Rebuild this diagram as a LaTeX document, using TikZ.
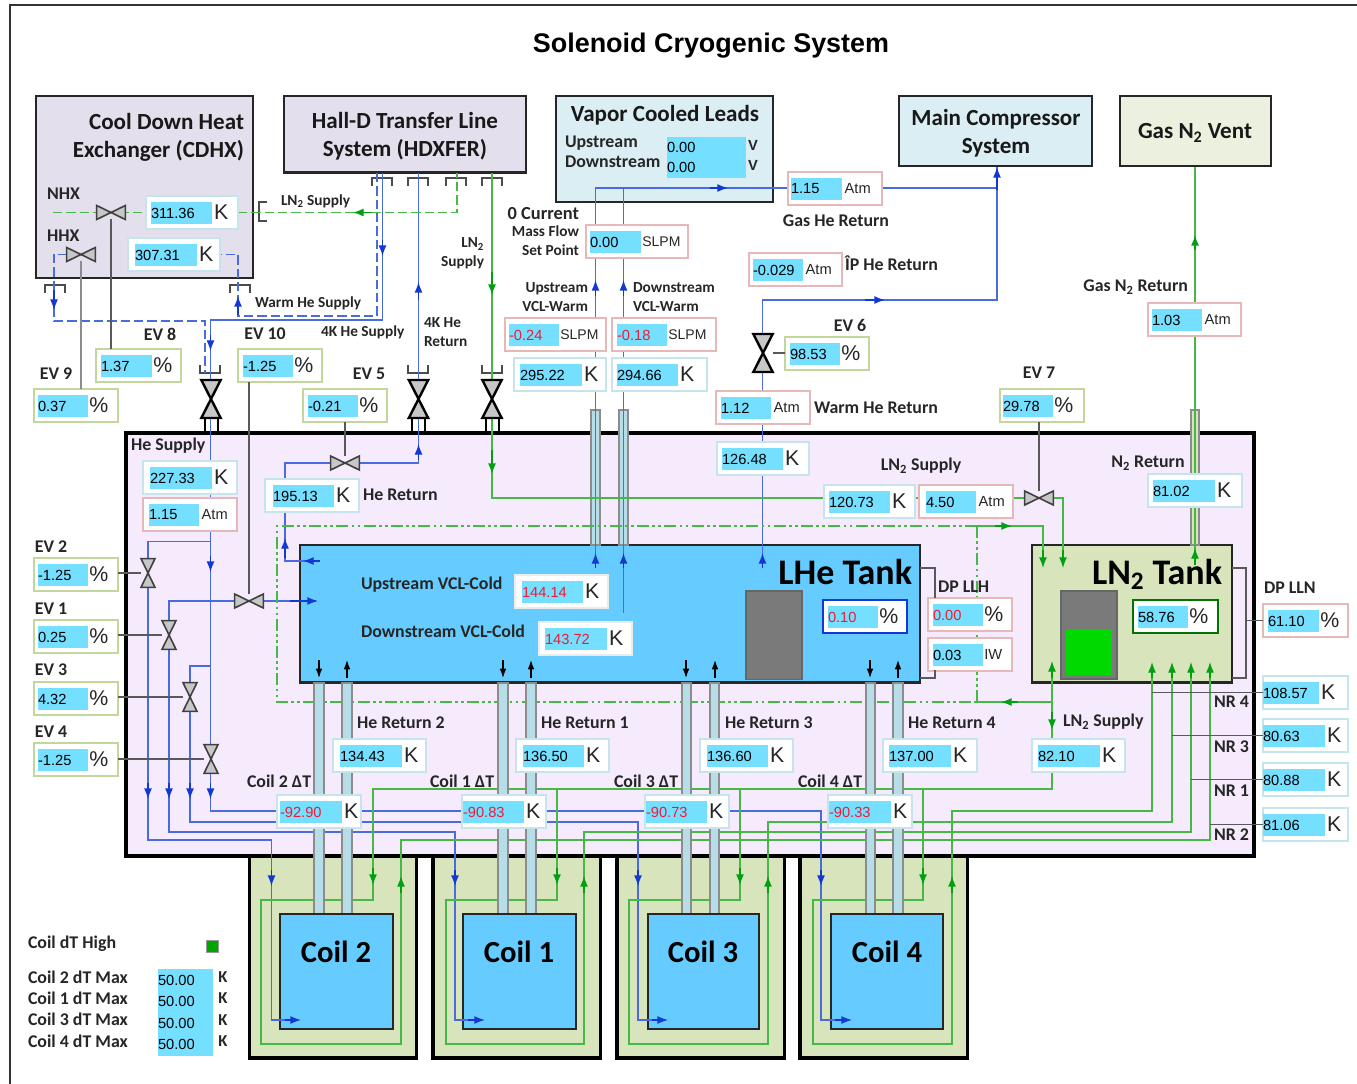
\documentclass[tikz,border=0pt]{standalone}
\usepackage{fontspec}
\setmainfont{Carlito}
\newfontfamily\numfont{Liberation Sans}
\usetikzlibrary{arrows.meta}

\definecolor{hxfill}{HTML}{E4DFEC}
\definecolor{vclfill}{HTML}{DAEEF3}
\definecolor{gasfill}{HTML}{EBF1DE}
\definecolor{cryofill}{HTML}{F5EBFD}
\definecolor{lhefill}{HTML}{66CCFF}
\definecolor{lnfill}{HTML}{D7E4BC}
\definecolor{valcyan}{HTML}{75DFFF}
\definecolor{pipefill}{HTML}{B7DDE8}
\definecolor{kedge}{HTML}{C5E4EC}
\definecolor{pedge}{HTML}{E6B9B8}
\definecolor{evedge}{HTML}{C3D69B}
\definecolor{heblue}{HTML}{4A6BE0}
\definecolor{tipblue}{HTML}{1438D2}
\definecolor{lngreen}{HTML}{45B845}
\definecolor{tipgreen}{HTML}{00A010}
\definecolor{alarmred}{HTML}{EE1C36}

\tikzset{
  kbox/.style={draw=kedge, fill=white, line width=1.5pt, anchor=north west, inner sep=0pt},
  pbox/.style={kbox, draw=pedge},
  evbox/.style={kbox, draw=evedge},
  nobox/.style={kbox, draw=white!92!black},
  lvlbox/.style={kbox, draw=tipblue},
  lnbox/.style={kbox, draw=green!45!black},
  field/.style={fill=valcyan, inner sep=0pt, anchor=north west, align=left,
    minimum height=16.5pt, font=\numfont\fontsize{11}{15}\selectfont},
  unit/.style={anchor=west, inner sep=1pt, text=black!85},
  bigbox/.style={draw=black!85, line width=1.9pt, align=center},
  heline/.style={draw=heblue, line width=1.1pt},
  hedash/.style={heline, dash pattern=on 7pt off 3pt},
  lnline/.style={draw=lngreen, line width=1pt},
  lndash/.style={lnline, dash pattern=on 7pt off 3pt},
  lndot/.style={lnline, dash pattern=on 9pt off 2.5pt on 2pt off 2.5pt on 2pt off 2.5pt},
  hetip/.style={draw=tipblue, -{Latex[length=8pt,width=6pt,color=tipblue]}, line width=1pt},
  lntip/.style={draw=tipgreen, -{Latex[length=8pt,width=6pt,color=tipgreen]}, line width=1pt},
  blktip/.style={draw=black, -{Latex[length=7pt,width=5pt]}, line width=.9pt},
  sense/.style={draw=black!65, line width=1pt},
  flange/.style={draw=black!70, line width=.8pt},
  pipe/.style={draw=black!45, fill=pipefill, line width=1pt},
  stem/.style={draw=black, line width=2pt},
  valveshape/.style={draw=black!75, fill=black!22, line width=1.2pt},
  bigvalve/.style={draw=black, fill=black!22, line width=1.8pt},
  lab/.style={font=\bfseries\fontsize{13.4}{15}\selectfont, text=black!85, inner sep=0pt},
  labsm/.style={lab, font=\bfseries\fontsize{11.5}{14}\selectfont},
  boxtitle/.style={font=\bfseries\fontsize{17.3}{21}\selectfont, text=black!90, inner sep=0pt},
  tanktitle/.style={font=\bfseries\fontsize{27}{29}\selectfont, inner sep=0pt},
  coiltitle/.style={font=\bfseries\fontsize{23}{26}\selectfont, inner sep=0pt}
}

\newcommand{\uK}{\hspace{.5pt}\numfont\fontsize{16}{16}\selectfont K}
\newcommand{\uPct}{\numfont\fontsize{16}{16}\selectfont \%}
\newcommand{\uAtm}{\hspace{1pt}\numfont\fontsize{11}{11}\selectfont Atm}
\newcommand{\uSlpm}{\numfont\fontsize{10.5}{11}\selectfont SLPM}
\newcommand{\uIw}{\numfont\fontsize{11}{11}\selectfont IW}
\newcommand{\alarm}[1]{\textcolor{alarmred}{#1}}

% style, name, left, top, right, field left, field right, value, unit
\newcommand{\readout}[9]{%
  \node[#1, minimum width={(#5-#3)*0.75pt}, minimum height=24.5pt] (#2) at (#3,#4) {};
  \node[field, text width={(#7-#6)*0.75pt}] (#2val) at (#6,#4+6) {#8};
  \node[unit] (#2unit) at (#7,#4+16.5) {#9};
}
\newcommand{\valveh}[3]{%
  \node[minimum width=21.5pt, minimum height=10.5pt, inner sep=0pt] (#1) at (#2,#3) {};
  \draw[valveshape] (#1.north west)--(#1.south east)--(#1.north east)--(#1.south west)--cycle;
}
\newcommand{\valvev}[3]{%
  \node[minimum width=10.5pt, minimum height=21.5pt, inner sep=0pt] (#1) at (#2,#3) {};
  \draw[valveshape] (#1.north west)--(#1.north east)--(#1.south west)--(#1.south east)--cycle;
}
\newcommand{\valvebig}[3]{%
  \node[minimum width=14.5pt, minimum height=28.5pt, inner sep=0pt] (#1) at (#2,#3) {};
  \draw[bigvalve] (#1.north west)--(#1.north east)--(#1.south west)--(#1.south east)--cycle;
}
\newcommand{\flangedown}[2]{\draw[flange] (#1-10,#2+8)--(#1-10,#2)--(#1+10,#2)--(#1+10,#2+8);}
\newcommand{\flangeup}[2]{\draw[flange] (#1-10,#2-8)--(#1-10,#2)--(#1+10,#2)--(#1+10,#2-8);}

\begin{document}
\begin{tikzpicture}[x=0.75pt, y=-0.75pt, every node/.style={outer sep=0pt}]
  \useasboundingbox (0,0) rectangle (1357,1084);
  \draw[black!80, line width=.9pt] (10,1084)--(10,5)--(1357,5);

  % --- Title ---
  \node[font=\numfont\bfseries\fontsize{20.2}{22}\selectfont, inner sep=0pt] (title) at (711,45.5) {Solenoid Cryogenic System};

  % --- Outer vessels ---
  \node[bigbox, fill=hxfill, anchor=north west, minimum width=162.75pt, minimum height=136.5pt] (cdhx) at (36,96) {};
  \node[bigbox, fill=hxfill, anchor=north west, minimum width=181.5pt, minimum height=57.5pt] (hdxfer) at (284,96) {};
  \node[bigbox, fill=vclfill, anchor=north west, minimum width=162.75pt, minimum height=79.5pt] (vcl) at (556,96) {};
  \node[bigbox, fill=vclfill, anchor=north west, minimum width=144.75pt, minimum height=52.5pt] (compressor) at (899,96) {};
  \node[bigbox, fill=gasfill, anchor=north west, minimum width=113.25pt, minimum height=52.5pt] (vent) at (1120,96) {};

  \node[draw=black, fill=lnfill, line width=2.4pt, anchor=north west, minimum width=125.5pt, minimum height=151.5pt] (coilboxb) at (249.5,856) {};
  \node[draw=black, fill=lnfill, line width=2.4pt, anchor=north west, minimum width=125.5pt, minimum height=151.5pt] (coilboxa) at (433,856) {};
  \node[draw=black, fill=lnfill, line width=2.4pt, anchor=north west, minimum width=125.5pt, minimum height=151.5pt] (coilboxc) at (617,856) {};
  \node[draw=black, fill=lnfill, line width=2.4pt, anchor=north west, minimum width=125.5pt, minimum height=151.5pt] (coilboxd) at (800,856) {};
  \node[draw=black, fill=cryofill, line width=2.6pt, anchor=north west, minimum width=846pt, minimum height=317.25pt] (cryostat) at (126,433) {};

  \node[draw=black!85, fill=lhefill, line width=1.9pt, anchor=north west, minimum width=465pt, minimum height=103pt] (lhe) at (300,545) {};
  \node[draw=black!85, fill=lnfill, line width=1.9pt, anchor=north west, minimum width=150pt, minimum height=103pt] (lntank) at (1032,545) {};
  \node[draw=black!60, fill=black!52, line width=1pt, anchor=north west, minimum width=42pt, minimum height=66.5pt] (lhelevel) at (746,591) {};
  \node[draw=black!60, fill=black!52, line width=1pt, anchor=north west, minimum width=42pt, minimum height=66pt] (lnlevel) at (1061,591) {};
  \node[fill=green!85!black, anchor=north west, minimum width=34.5pt, minimum height=34.5pt, inner sep=0pt] (lngauge) at (1066,629) {};

  % --- Lead and vent stacks ---
  \draw[pipe] (591,410) rectangle (600,545);
  \draw[pipe] (619,410) rectangle (628,545);
  \draw[pipe, fill=lnfill] (1191,410) rectangle (1199,545);
  \draw[stem] (205,418) -- (205,432) (218,418) -- (218,432);
  \draw[stem] (412,418) -- (412,432) (425,418) -- (425,432);
  \draw[stem] (486,418) -- (486,432) (499,418) -- (499,432);

  % --- Flanges ---
  \flangedown{382}{178}
  \flangedown{418}{178}
  \flangedown{456}{178}
  \flangedown{492}{178}
  \flangedown{55}{285}
  \flangedown{240}{285}
  \flangeup{210}{373}
  \flangeup{418}{373}
  \flangeup{492}{373}
  \draw[flange] (267,202)--(259,202)--(259,221)--(267,221);

  % --- Coordinates on the vessels ---
  \coordinate (hdsupply) at (382.5,173);
  \coordinate (hdwarm) at (377,173);
  \coordinate (hdreturn) at (418.5,173);
  \coordinate (hdnhx) at (457,173);
  \coordinate (hdln) at (492,173);
  \coordinate (mcgas) at (997,167);
  \coordinate (ventin) at (1195,167);
  \coordinate (lnout) at (1195,562);
  \coordinate (hhxport) at (81,254.5);

  % --- He lines ---
  \draw[heline] (hdsupply) -- (382.5,320) -- (210.5,320) -- (210.5,811) -- (277,811);
  \draw[heline] (210.5,541.5) -- (148,541.5) -- (148,840) -- (271.5,840) -- (271.5,1020) -- (285,1020);
  \draw[heline] (316,601) -- (169,601) -- (169,832) -- (455,832) -- (455,1020) -- (470,1020);
  \draw[heline] (210.5,666) -- (190,666) -- (190,822) -- (638,822) -- (638,1020) -- (652,1020);
  \draw[heline] (277,811) -- (821,811) -- (821,1020) -- (836,1020);
  \draw[hedash] (hdwarm) -- (377,316) -- (238,316) -- (238,254.5) -- (128,254.5);
  \draw[hedash] (hhxport) -- (54,254.5) -- (54,321) -- (205,321) -- (205,373);
  \draw[heline] (hdreturn) -- (418.5,463) -- (285,463) -- (285,561) -- (320,561);
  \draw[heline] (595.5,568) -- (595.5,188) -- (788,188);
  \draw[heline] (623.5,613) -- (623.5,188);
  \draw[heline] (882,188) -- (997,188) -- (mcgas);
  \draw[heline] (762.5,568) -- (762.5,300) -- (997,300) -- (997,188);

  % --- He arrow heads ---
  \draw[hetip] (382.5,240) -- (382.5,256);
  \draw[hetip] (210.5,335) -- (210.5,351);
  \draw[hetip] (54,290) -- (54,310);
  \draw[hetip] (238,315) -- (238,296);
  \draw[hetip] (418.5,300) -- (418.5,282);
  \draw[hetip] (418.5,460) -- (418.5,444);
  \draw[hetip] (285,558) -- (285,538);
  \draw[hetip] (320,561) -- (303,561);
  \draw[hetip] (290,601) -- (318,601);
  \draw[hetip] (210.5,556) -- (210.5,572);
  \draw[hetip] (148,783) -- (148,799);
  \draw[hetip] (169,783) -- (169,799);
  \draw[hetip] (190,783) -- (190,799);
  \draw[hetip] (210.5,783) -- (210.5,799);
  \draw[hetip] (271.5,870) -- (271.5,886);
  \draw[hetip] (455,870) -- (455,886);
  \draw[hetip] (638,870) -- (638,886);
  \draw[hetip] (821,870) -- (821,886);
  \draw[hetip] (595.5,568) -- (595.5,553);
  \draw[hetip] (623.5,568) -- (623.5,553);
  \draw[hetip] (762.5,568) -- (762.5,553);
  \draw[hetip] (595.5,296) -- (595.5,280);
  \draw[hetip] (623.5,296) -- (623.5,280);
  \draw[hetip] (710,188) -- (728,188);
  \draw[hetip] (997,190) -- (mcgas);
  \draw[hetip] (865,300) -- (885,300);

  % --- Nitrogen lines ---
  \draw[lndash] (53,212.5) -- (146,212.5);
  \draw[lndash] (238,212.5) -- (457,212.5) -- (hdnhx);
  \draw[lnline] (hdln) -- (492,498) -- (1063,498) -- (1063,555);
  \draw[lnline] (lnout) -- (ventin);
  \draw[lndot] (977,526) -- (277,526) -- (277,702) -- (977,702);
  \draw[lndot] (977,526) -- (977,702);
  \draw[lnline] (977,526) -- (1043,526) -- (1043,555);
  \draw[lnline] (977,702) -- (1052,702);
  \draw[lnline] (1052,665) -- (1052,739);
  \draw[lnline] (1052,771) -- (1052,789) -- (373,789) -- (373,900) -- (261,900) -- (261,1044) -- (401,1044) -- (401,840) -- (1210,840) -- (1210,670);
  \draw[lnline] (557,789) -- (557,900) -- (446,900) -- (446,1044) -- (584,1044) -- (584,832) -- (1191,832) -- (1191,670);
  \draw[lnline] (740,789) -- (740,900) -- (629,900) -- (629,1044) -- (768,1044) -- (768,822) -- (1172,822) -- (1172,670);
  \draw[lnline] (923,789) -- (923,900) -- (813,900) -- (813,1044) -- (952,1044) -- (952,811) -- (1152,811) -- (1152,670);

  % --- Nitrogen arrow heads ---
  \draw[lntip] (372,212.5) -- (353,212.5);
  \draw[lntip] (492,272) -- (492,295);
  \draw[lntip] (492,450) -- (492,474);
  \draw[lntip] (1043,550) -- (1043,568);
  \draw[lntip] (1063,550) -- (1063,568);
  \draw[lntip] (1195,565) -- (1195,548);
  \draw[lntip] (1195,250) -- (1195,235);
  \draw[lntip] (995,526) -- (1012,526);
  \draw[lntip] (1018,702) -- (1001,702);
  \draw[lntip] (1052,678) -- (1052,661);
  \draw[lntip] (1052,712) -- (1052,730);
  \draw[lntip] (1152,678) -- (1152,662);
  \draw[lntip] (1172,678) -- (1172,662);
  \draw[lntip] (1191,678) -- (1191,662);
  \draw[lntip] (1210,678) -- (1210,662);
  \draw[lntip] (373,868) -- (373,885);
  \draw[lntip] (557,868) -- (557,885);
  \draw[lntip] (740,868) -- (740,885);
  \draw[lntip] (923,868) -- (923,885);
  \draw[lntip] (401,893) -- (401,876);
  \draw[lntip] (584,893) -- (584,876);
  \draw[lntip] (768,893) -- (768,876);
  \draw[lntip] (952,893) -- (952,876);

  % --- Cold stacks and inner coils ---
  \draw[pipe] (314,683) rectangle (324,914);
  \draw[pipe] (342,683) rectangle (352,914);
  \draw[pipe] (498,683) rectangle (508,914);
  \draw[pipe] (526,683) rectangle (536,914);
  \draw[pipe] (682,683) rectangle (691,914);
  \draw[pipe] (710,683) rectangle (719,914);
  \draw[pipe] (866,683) rectangle (875,914);
  \draw[pipe] (893,683) rectangle (903,914);

  \node[draw=black!85, fill=lhefill, line width=1.6pt, anchor=north west, minimum width=84.75pt, minimum height=86.5pt] (coilb) at (280,914) {};
  \node[draw=black!85, fill=lhefill, line width=1.6pt, anchor=north west, minimum width=84.75pt, minimum height=86.5pt] (coila) at (463,914) {};
  \node[draw=black!85, fill=lhefill, line width=1.6pt, anchor=north west, minimum width=83.25pt, minimum height=86.5pt] (coilc) at (648,914) {};
  \node[draw=black!85, fill=lhefill, line width=1.6pt, anchor=north west, minimum width=84pt, minimum height=86.5pt] (coild) at (831,914) {};
  \draw[heline] (272,1020) -- (290,1020);
  \draw[hetip] (285,1020) -- (301,1020);
  \draw[heline] (455,1020) -- (473,1020);
  \draw[hetip] (468,1020) -- (485,1020);
  \draw[heline] (638,1020) -- (656,1020);
  \draw[hetip] (652,1020) -- (668,1020);
  \draw[heline] (821,1020) -- (840,1020);
  \draw[hetip] (835,1020) -- (852,1020);

  % --- Small flow marks on the LHe tank ---
  \draw[blktip] (319,660) -- (319,678);
  \draw[blktip] (347,678) -- (347,660);
  \draw[blktip] (503,660) -- (503,678);
  \draw[blktip] (531,678) -- (531,660);
  \draw[blktip] (686,660) -- (686,678);
  \draw[blktip] (715,678) -- (715,660);
  \draw[blktip] (870,660) -- (870,678);
  \draw[blktip] (898,678) -- (898,660);

  % --- Read-outs ---
  \readout{kbox}{tnhx}{146}{196}{238}{151}{212}{311.36}{\uK}
  \readout{kbox}{thhx}{128}{238}{220}{135}{197}{307.31}{\uK}
  \readout{evbox}{eveight}{96}{349}{181}{101}{152}{1.37}{\uPct}
  \readout{evbox}{evten}{238}{349}{322}{243}{293}{-1.25}{\uPct}
  \readout{evbox}{evnine}{34}{389}{118}{38}{88}{0.37}{\uPct}
  \readout{evbox}{evfive}{303}{389}{387}{308}{358}{-0.21}{\uPct}
  \readout{pbox}{pgas}{788}{172}{882}{791}{842}{1.15}{\uAtm}
  \readout{pbox}{fset}{586}{225}{688}{590}{641}{0.00}{\uSlpm}
  \readout{pbox}{dpip}{749}{253}{842}{753}{803}{-0.029}{\uAtm}
  \readout{pbox}{fup}{505}{318}{606}{509}{559}{\alarm{-0.24}}{\uSlpm}
  \readout{pbox}{fdown}{612}{318}{716}{617}{667}{\alarm{-0.18}}{\uSlpm}
  \readout{kbox}{tup}{514}{358}{606}{520}{582}{295.22}{\uK}
  \readout{kbox}{tdown}{612}{358}{707}{617}{678}{294.66}{\uK}
  \readout{evbox}{evsix}{785}{337}{869}{790}{840}{98.53}{\uPct}
  \readout{pbox}{pwarm}{716}{391}{810}{721}{771}{1.12}{\uAtm}
  \readout{kbox}{twarm}{717}{442}{809}{722}{783}{126.48}{\uK}
  \readout{kbox}{tlnsup}{824}{485}{915}{829}{890}{120.73}{\uK}
  \readout{pbox}{plnsup}{919}{485}{1013}{926}{976}{4.50}{\uAtm}
  \readout{evbox}{evseven}{1000}{389}{1084}{1003}{1053}{29.78}{\uPct}
  \readout{kbox}{tnret}{1148}{474}{1242}{1153}{1215}{81.02}{\uK}
  \readout{pbox}{pnret}{1148}{303}{1241}{1152}{1202}{1.03}{\uAtm}
  \readout{pbox}{dplhp}{928}{598}{1012}{933}{983}{\alarm{0.00}}{\uPct}
  \readout{pbox}{dplhw}{928}{638}{1012}{933}{983}{0.03}{\uIw}
  \readout{lnbox}{lvln}{1133}{600}{1218}{1138}{1188}{58.76}{\uPct}
  \readout{lvlbox}{lvlhe}{823}{600}{907}{828}{878}{\alarm{0.10}}{\uPct}
  \readout{pbox}{dplln}{1263}{604}{1348}{1268}{1319}{61.10}{\uPct}
  \readout{kbox}{nrfour}{1263}{676}{1348}{1263}{1319}{108.57}{\uK}
  \readout{kbox}{nrthree}{1263}{719}{1348}{1263}{1325}{80.63}{\uK}
  \readout{kbox}{nrone}{1263}{763}{1348}{1263}{1325}{80.88}{\uK}
  \readout{kbox}{nrtwo}{1263}{808}{1348}{1263}{1325}{81.06}{\uK}
  \readout{kbox}{tlnret}{1032}{739}{1125}{1038}{1100}{82.10}{\uK}
  \readout{kbox}{hrb}{333}{739}{426}{340}{402}{134.43}{\uK}
  \readout{kbox}{hra}{516}{739}{609}{523}{584}{136.50}{\uK}
  \readout{kbox}{hrc}{700}{739}{793}{707}{768}{136.60}{\uK}
  \readout{kbox}{hrd}{883}{739}{977}{889}{951}{137.00}{\uK}
  \readout{kbox}{dtb}{277}{795}{361}{280}{342}{\alarm{-92.90}}{\uK}
  \readout{kbox}{dta}{462}{795}{546}{463}{524}{\alarm{-90.83}}{\uK}
  \readout{kbox}{dtc}{645}{795}{729}{646}{707}{\alarm{-90.73}}{\uK}
  \readout{kbox}{dtd}{828}{795}{912}{829}{891}{\alarm{-90.33}}{\uK}
  \readout{kbox}{thesup}{143}{461}{237}{150}{212}{227.33}{\uK}
  \readout{pbox}{phesup}{143}{498}{237}{149}{199}{1.15}{\uAtm}
  \readout{kbox}{theret}{265}{479}{359}{273}{334}{195.13}{\uK}
  \readout{nobox}{tvclup}{515}{575}{608}{522}{583}{\alarm{144.14}}{\uK}
  \readout{nobox}{tvcldown}{539}{622}{632}{545}{607}{\alarm{143.72}}{\uK}
  \readout{evbox}{evtwo}{34}{558}{118}{38}{88}{-1.25}{\uPct}
  \readout{evbox}{evone}{34}{620}{118}{38}{88}{0.25}{\uPct}
  \readout{evbox}{evthree}{34}{682}{118}{38}{88}{4.32}{\uPct}
  \readout{evbox}{evfour}{34}{743}{118}{38}{88}{-1.25}{\uPct}

  % --- Valves ---
  \valveh{veight}{111}{212.5}
  \valveh{vnine}{81}{254.5}
  \valveh{vfive}{345}{463}
  \valveh{vten}{249}{601}
  \valveh{vseven}{1039}{498}
  \valvev{vtwo}{148}{573}
  \valvev{vone}{169}{635}
  \valvev{vthree}{190}{697}
  \valvev{vfour}{211}{759}
  \valvebig{vsup}{211}{399}
  \valvebig{vret}{418.5}{399}
  \valvebig{vln}{492}{399}
  \valvebig{vsix}{763}{353}

  % --- Actuator and sensor lines ---
  \draw[sense] (veight) -- (veight |- eveight.north);
  \draw[sense, draw=black!45] (vnine) -- (vnine |- evnine.north);
  \draw[sense] (vten) -- (vten |- evten.south);
  \draw[sense] (vfive) -- (vfive |- evfive.south);
  \draw[sense] (vsix.east) -- (vsix.east -| evsix.west);
  \draw[sense] (vseven) -- (vseven |- evseven.south);
  \draw[sense] (vtwo -| evtwo.east) -- (vtwo);
  \draw[sense] (vone -| evone.east) -- (vone);
  \draw[sense] (vthree -| evthree.east) -- (vthree);
  \draw[sense] (vfour -| evfour.east) -- (vfour);
  \draw[sense] (nrfour.west) -- (nrfour.west -| 1152,0);
  \draw[sense] (nrthree.west) -- (nrthree.west -| 1172,0);
  \draw[sense] (nrone.west) -- (nrone.west -| 1191,0);
  \draw[sense] (nrtwo.west) -- (nrtwo.west -| 1210,0);
  \draw[sense] (lntank.east |- 0,568) -- (1246,568) -- (1246,678) -- (lntank.east |- 0,678);
  \draw[sense] (dplln.west) -- (dplln.west -| 1246,0);
  \draw[sense] (lhe.east |- 0,568) -- (935,568) -- (935,598);
  \draw[sense] (935,670) -- (935,678) -- (lhe.east |- 0,678);

  % --- Box titles ---
  \node[boxtitle, anchor=north east, align=right] (titlecdhx) at (244,113) {Cool Down Heat\\Exchanger (CDHX)};
  \node[boxtitle, align=center] (titlehd) at (405,136) {Hall-D Transfer Line\\System (HDXFER)};
  \node[boxtitle] (titlevcl) at (665,115) {Vapor Cooled Leads};
  \node[boxtitle, align=center] (titlemc) at (996,133) {Main Compressor\\System};
  \node[boxtitle] (titlevent) at (1195,133) {Gas N\textsubscript{2} Vent};
  \node[tanktitle, anchor=east] (titlelhe) at (912,572) {LHe Tank};
  \node[tanktitle, anchor=east] (titlelnt) at (1222,574) {LN\textsubscript{2} Tank};
  \node[coiltitle] (namecoilb) at (336,952) {Coil 2};
  \node[coiltitle] (namecoila) at (519,952) {Coil 1};
  \node[coiltitle] (namecoilc) at (703,952) {Coil 3};
  \node[coiltitle] (namecoild) at (887,952) {Coil 4};

  % --- Vapor cooled leads voltages ---
  \node[field, text width=59.25pt, minimum height=31pt] (vclv) at (667,137) {0.00\\0.00};
  \node[lab, anchor=west] (labvup) at (565,143) {Upstream};
  \node[lab, anchor=west] (labvdown) at (565,162) {Downstream};
  \node[lab, font=\numfont\bfseries\fontsize{11}{11}\selectfont] (labvv) at (753,145) {V};
  \node[lab, font=\numfont\bfseries\fontsize{11}{11}\selectfont] (labvw) at (753,165) {V};

  % --- Labels, top part ---
  \node[lab, anchor=west] (labnhx) at (47,194) {NHX};
  \node[lab, anchor=west] (labhhx) at (47,236) {HHX};
  \node[labsm, anchor=west] (lablnb) at (281,201) {LN\textsubscript{2} Supply};
  \node[labsm, anchor=west] (labwarm) at (255,303) {Warm He Supply};
  \node[labsm, anchor=west] (labhek) at (321,332) {4K He Supply};
  \node[labsm, anchor=north west, align=left] (labher) at (424,318) {4K He\\Return};
  \node[labsm, anchor=north east, align=right] (lablnc) at (484,238) {LN\textsubscript{2}\\Supply};
  \node[lab] (labeight) at (160,334) {EV 8};
  \node[lab] (labten) at (265,334) {EV 10};
  \node[lab] (labnine) at (56,374) {EV 9};
  \node[lab] (labfive) at (369,374) {EV 5};
  \node[lab, anchor=east, font=\bfseries\fontsize{13.8}{15}\selectfont] (labcur) at (579,214) {0 Current};
  \node[labsm, anchor=north east, align=right] (labset) at (579,226) {Mass Flow\\Set Point};
  \node[labsm, anchor=north east, align=right] (labvcu) at (588,283) {Upstream\\VCL-Warm};
  \node[labsm, anchor=north west, align=left] (labvcd) at (633,283) {Downstream\\VCL-Warm};
  \node[lab] (labgas) at (836,221) {Gas He Return};
  \node[lab, anchor=west] (labip) at (845,263) {ÎP He Return};
  \node[lab, anchor=west] (labwhe) at (814,408) {Warm He Return};
  \node[lab] (labsix) at (850,325) {EV 6};
  \node[lab] (labseven) at (1039,373) {EV 7};
  \node[lab, anchor=east] (labgasn) at (1188,287) {Gas N\textsubscript{2} Return};

  % --- Labels, inside the vessel ---
  \node[lab, anchor=west] (labhesup) at (131,446) {He Supply};
  \node[lab, anchor=west] (labheret) at (363,495) {He Return};
  \node[lab] (lablnsup) at (921,466) {LN\textsubscript{2} Supply};
  \node[lab] (labnret) at (1148,463) {N\textsubscript{2} Return};
  \node[lab, anchor=west] (labdph) at (938,587) {DP LLH};
  \node[lab, anchor=west] (labdpn) at (1264,588) {DP LLN};
  \node[lab, anchor=west] (labvclu) at (361,585) {Upstream VCL-Cold};
  \node[lab, anchor=west] (labvcld) at (361,631) {Downstream VCL-Cold};
  \node[lab, anchor=west] (labhrb) at (357,723) {He Return 2};
  \node[lab, anchor=west] (labhra) at (541,723) {He Return 1};
  \node[lab, anchor=west] (labhrc) at (725,723) {He Return 3};
  \node[lab, anchor=west] (labhrd) at (908,723) {He Return 4};
  \node[lab, anchor=west] (labdtb) at (247,781) {Coil 2 ΔT};
  \node[lab, anchor=west] (labdta) at (430,781) {Coil 1 ΔT};
  \node[lab, anchor=west] (labdtc) at (614,781) {Coil 3 ΔT};
  \node[lab, anchor=west] (labdtd) at (798,781) {Coil 4 ΔT};
  \node[lab, anchor=west] (lablnd) at (1063,722) {LN\textsubscript{2} Supply};
  \node[lab, anchor=west] (labnrfour) at (1214,702) {NR 4};
  \node[lab, anchor=west] (labnrthree) at (1214,747) {NR 3};
  \node[lab, anchor=west] (labnrone) at (1214,791) {NR 1};
  \node[lab, anchor=west] (labnrtwo) at (1214,835) {NR 2};
  \node[lab] (labtwo) at (51,547) {EV 2};
  \node[lab] (labone) at (51,609) {EV 1};
  \node[lab] (labthree) at (51,670) {EV 3};
  \node[lab] (labfour) at (51,732) {EV 4};

  % --- Limits legend ---
  \node[lab, anchor=west] (labhigh) at (28,944) {Coil dT High};
  \node[draw=black!40, fill=green!65!black, anchor=north west, minimum size=9pt, inner sep=0pt] (highlamp) at (206,940) {};
  \node[lab, anchor=west, align=left, font=\bfseries\fontsize{13.4}{16}\selectfont] (labmax) at (28,1009) {Coil 2 dT Max\\Coil 1 dT Max\\Coil 3 dT Max\\Coil 4 dT Max};
  \node[field, text width=41.25pt, minimum height=65.25pt, font=\numfont\fontsize{11}{16}\selectfont] (maxval) at (158,969) {50.00\\50.00\\50.00\\50.00};
  \node[lab, align=left, font=\bfseries\fontsize{12.5}{16}\selectfont] (maxunit) at (223,1009) {K\\K\\K\\K};
\end{tikzpicture}
\end{document}
